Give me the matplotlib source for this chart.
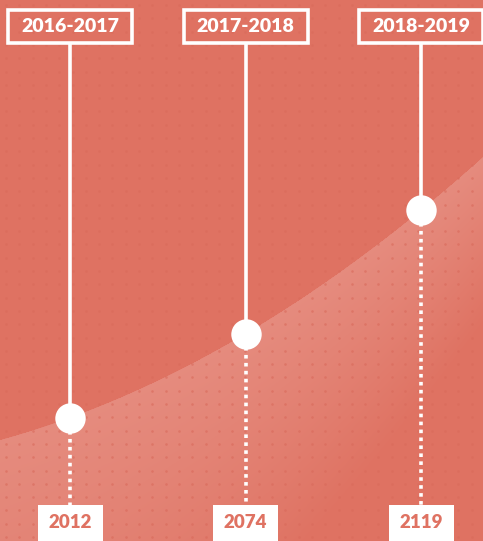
import matplotlib
matplotlib.use("Agg")
import matplotlib.pyplot as plt
from matplotlib.patches import Rectangle
import numpy as np

# ---- data ----
periods = ["2016-2017", "2017-2018", "2018-2019"]
values = [2012, 2074, 2119]

# ---- style ----
BG = "#DF7262"
LIGHT = (0.905, 0.555, 0.505)
DOT = "#D96A5B"
WHITE = "#FFFFFF"

W, H = 483, 541
fig = plt.figure(figsize=(W / 100, H / 100), dpi=100)
fig.patch.set_facecolor(BG)
ax = fig.add_axes([0, 0, 1, 1])
ax.set_facecolor(BG)
ax.set_xlim(0, W)
ax.set_ylim(0, H)
ax.axis("off")

# decorative rising curve (lighter gradient area beneath)
def curve(x):
    return 101 + 0.275 * x + 0.000644 * x ** 2

xs = np.linspace(0, W, 300)
poly = ax.fill_between(xs, 0, curve(xs), color="none", linewidth=0, zorder=2)

gxx, gyy = np.meshgrid(np.arange(W) + 0.5, np.arange(H) + 0.5)
d = curve(gxx) - gyy
scale = 170 + (W - gxx) * 0.45
alpha = np.clip(1 - d / scale, 0, 1)
alpha = np.where(d >= 0, alpha * 0.95, 0)
img = np.zeros((H, W, 4))
img[..., 0], img[..., 1], img[..., 2] = LIGHT
img[..., 3] = alpha
im = ax.imshow(img, extent=(0, W, 0, H), origin="lower", zorder=2,
               interpolation="bilinear", aspect="auto")
im.set_clip_path(poly.get_paths()[0], transform=ax.transData)

# subtle dot grid
gx, gy = np.meshgrid(np.arange(6, W, 13.3), np.arange(4, H, 13.3))
ax.scatter(gx.ravel(), gy.ravel(), s=3.5, color=DOT, alpha=0.6, linewidths=0, zorder=3)

# category positions
x0, step = 70, 175.5
xpos = [x0 + i * step for i in range(len(periods))]

top_box_top, top_box_bot = H - 10, H - 43
bot_box_top = H - 508

for i, (p, v) in enumerate(zip(periods, values)):
    x = xpos[i]
    cy = curve(x)
    ax.plot([x, x], [top_box_bot, cy], color=WHITE, lw=2.6, solid_capstyle="butt", zorder=4)
    ax.plot([x, x], [cy - 13, bot_box_top + 3], color=WHITE, lw=2.6,
            linestyle=(0, (1.0, 1.2)), zorder=4)
    ax.scatter([x], [cy], s=480, color=WHITE, linewidths=0, zorder=5)
    bw, bh = 124, 33
    ax.add_patch(Rectangle((x - bw / 2, top_box_bot), bw, bh, fill=False,
                           edgecolor=WHITE, lw=2.6, zorder=5))
    ax.text(x, (top_box_top + top_box_bot) / 2 - 0.5, p, color=WHITE, fontsize=14,
            fontweight="heavy", family="Lato", ha="center", va="center", zorder=6)
    vw, vh = 65, 40
    ax.add_patch(Rectangle((x - vw / 2, bot_box_top - vh + 3), vw, vh,
                           facecolor=WHITE, edgecolor="none", zorder=5))
    ax.text(x, bot_box_top - 15, str(v), color=BG, fontsize=13.5,
            fontweight="heavy", family="Lato", ha="center", va="center", zorder=6)

fig.savefig("out.png", dpi=100, facecolor=BG)
